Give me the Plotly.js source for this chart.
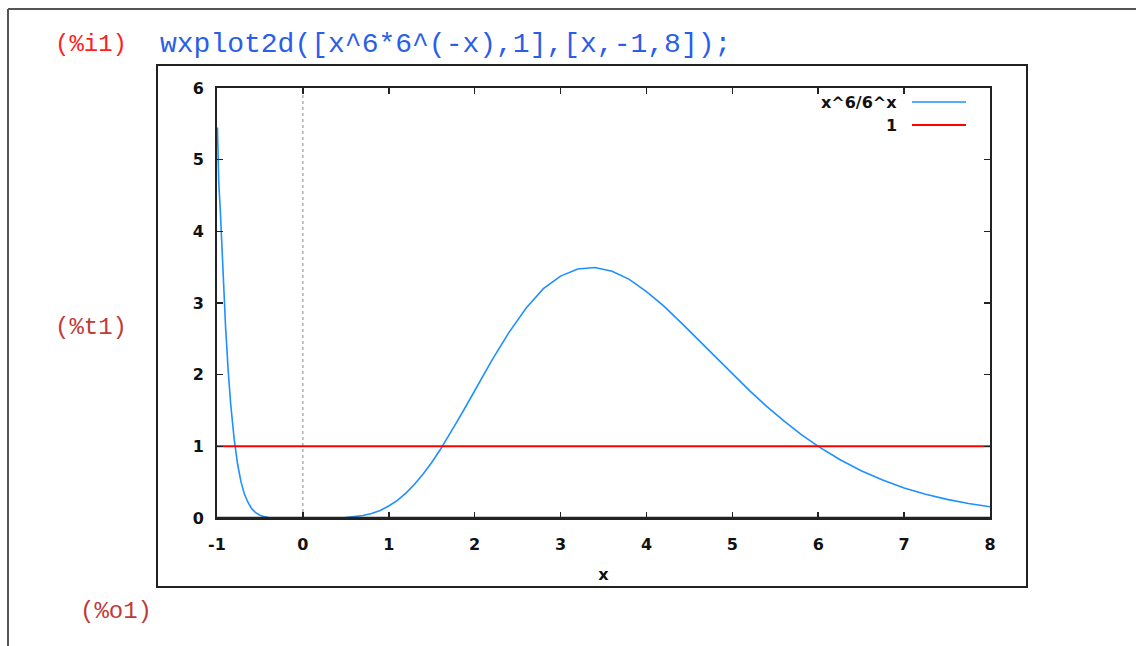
<!DOCTYPE html>
<html>
<head>
<meta charset="utf-8">
<script src="https://cdn.plot.ly/plotly-3.0.1.min.js"></script>
<style>
html,body{margin:0;padding:0;background:#fff;}
#plot{width:1136px;height:646px;}
</style>
</head>
<body>
<div id="plot"></div>
<script>
// Curve x^6/6^x
const curveX = [-0.995, -0.98, -0.96, -0.94, -0.92, -0.9, -0.87, -0.84, -0.8, -0.76, -0.72, -0.68, -0.64, -0.6, -0.55, -0.5, -0.45, -0.4, -0.3, -0.2, 0, 0.2, 0.3, 0.4, 0.5, 0.6, 0.7, 0.8, 0.9, 1.0, 1.1, 1.2, 1.3, 1.4, 1.5, 1.6, 1.7, 1.8, 1.9, 2.0, 2.2, 2.4, 2.6, 2.8, 3.0, 3.2, 3.4, 3.6, 3.8, 4.0, 4.2, 4.4, 4.6, 4.8, 5.0, 5.2, 5.4, 5.6, 5.8, 6.0, 6.25, 6.5, 6.75, 7.0, 7.25, 7.5, 7.75, 8.0];
const curveY = [5.45, 4.7, 4.25, 3.72, 3.15, 2.66, 2.06, 1.58, 1.10, 0.75, 0.50, 0.33, 0.22, 0.137, 0.074, 0.038, 0.019, 0.008, 0.001, 0.0, 0.0, 0.0, 0.0005, 0.002, 0.006, 0.016, 0.034, 0.063, 0.106, 0.167, 0.247, 0.348, 0.47, 0.613, 0.775, 0.955, 1.148, 1.354, 1.563, 1.778, 2.20, 2.59, 2.93, 3.20, 3.375, 3.475, 3.496, 3.444, 3.33, 3.16, 2.96, 2.73, 2.49, 2.25, 2.01, 1.777, 1.558, 1.354, 1.168, 1.0, 0.816, 0.66, 0.529, 0.42, 0.331, 0.26, 0.202, 0.156];
// Constant line "1"
const constX = [-1, 8];
const constY = [1, 1];
const xTicks = [-1, 0, 1, 2, 3, 4, 5, 6, 7, 8];
const yTicks = [0, 1, 2, 3, 4, 5, 6];
const legendNames = ["x^6/6^x", "1"];

// pixel -> paper helpers (plot area 217..990 x 88..518)
const L = 217, R = 990, T = 88, B = 518;
const px = v => (v - L) / (R - L);
const py = v => (B - v) / (B - T);

const tickFont = {family: "DejaVu Sans", size: 16, color: "#111", weight: "bold"};

const traces = [
  {x: curveX, y: curveY, mode: "lines", line: {color: "#1e90ff", width: 1.6}, showlegend: false, hoverinfo: "skip"},
  {x: constX, y: constY, mode: "lines", line: {color: "#ff0000", width: 2}, showlegend: false, hoverinfo: "skip"}
];

const shapes = [
  // zero axis (dotted)
  {type: "line", xref: "x", yref: "paper", x0: 0, x1: 0, y0: 0, y1: 1, line: {color: "#888", width: 1, dash: "dot"}, layer: "below"},
  // bottom border drawn over the curve (as in gnuplot)
  {type: "line", xref: "paper", yref: "paper", x0: 0, x1: 1, y0: 0, y1: 0, line: {color: "#222", width: 2.5}, layer: "above"},
  // graph frame
  {type: "rect", xref: "paper", yref: "paper", x0: px(157), x1: px(1027), y0: py(587), y1: py(65), line: {color: "#222", width: 2}},
  // worksheet frame lines
  {type: "line", xref: "paper", yref: "paper", x0: px(8), x1: px(1136), y0: py(9), y1: py(9), line: {color: "#555", width: 2}},
  {type: "line", xref: "paper", yref: "paper", x0: px(8), x1: px(8), y0: py(9), y1: py(646), line: {color: "#555", width: 2}},
  // legend samples
  {type: "line", xref: "paper", yref: "paper", x0: px(912), x1: px(966), y0: py(102), y1: py(102), line: {color: "#1e90ff", width: 1.6}},
  {type: "line", xref: "paper", yref: "paper", x0: px(912), x1: px(966), y0: py(125), y1: py(125), line: {color: "#ff0000", width: 2}}
];

const annotations = [
  {text: "(%i1)", xref: "paper", yref: "paper", x: px(53), y: py(45), xanchor: "left", yanchor: "middle", showarrow: false, font: {family: "Liberation Mono", size: 24, color: "#ff2020"}},
  {text: "wxplot2d([x^6*6^(-x),1],[x,-1,8]);", xref: "paper", yref: "paper", x: px(158), y: py(45), xanchor: "left", yanchor: "middle", showarrow: false, font: {family: "Liberation Mono", size: 28, color: "#2a5ee8"}},
  {text: "(%t1)", xref: "paper", yref: "paper", x: px(53), y: py(327), xanchor: "left", yanchor: "middle", showarrow: false, font: {family: "Liberation Mono", size: 24, color: "#c03a3a"}},
  {text: "(%o1)", xref: "paper", yref: "paper", x: px(78), y: py(611), xanchor: "left", yanchor: "middle", showarrow: false, font: {family: "Liberation Mono", size: 24, color: "#c03a3a"}},
  {text: legendNames[0], xref: "paper", yref: "paper", x: px(899), y: py(102), xanchor: "right", yanchor: "middle", showarrow: false, font: {family: "DejaVu Sans", size: 16, color: "#111", weight: "bold"}},
  {text: legendNames[1], xref: "paper", yref: "paper", x: px(899), y: py(125), xanchor: "right", yanchor: "middle", showarrow: false, font: {family: "DejaVu Sans", size: 16, color: "#111", weight: "bold"}}
];

const layout = {
  width: 1136, height: 646,
  margin: {l: L, r: 1136 - R, t: T, b: 646 - B, pad: 0},
  paper_bgcolor: "#fff", plot_bgcolor: "#fff",
  showlegend: false,
  xaxis: {
    range: [-1, 8], tickvals: xTicks, ticktext: xTicks.map(String),
    ticks: "inside", ticklen: 6, tickwidth: 1.5, tickcolor: "#222",
    showline: true, linecolor: "#222", linewidth: 2, mirror: "allticks",
    showgrid: false, zeroline: false,
    tickfont: tickFont, ticklabelstandoff: 11,
    title: {text: "x", font: {family: "DejaVu Sans", size: 16, color: "#111", weight: "bold"}, standoff: 16}
  },
  yaxis: {
    range: [0, 6], tickvals: yTicks, ticktext: yTicks.map(String),
    ticks: "inside", ticklen: 6, tickwidth: 1.5, tickcolor: "#222",
    showline: true, linecolor: "#222", linewidth: 2, mirror: "allticks",
    showgrid: false, zeroline: false,
    tickfont: tickFont, ticklabelstandoff: 8
  },
  shapes: shapes,
  annotations: annotations
};

Plotly.newPlot("plot", traces, layout, {staticPlot: true, displayModeBar: false});
</script>
</body>
</html>
